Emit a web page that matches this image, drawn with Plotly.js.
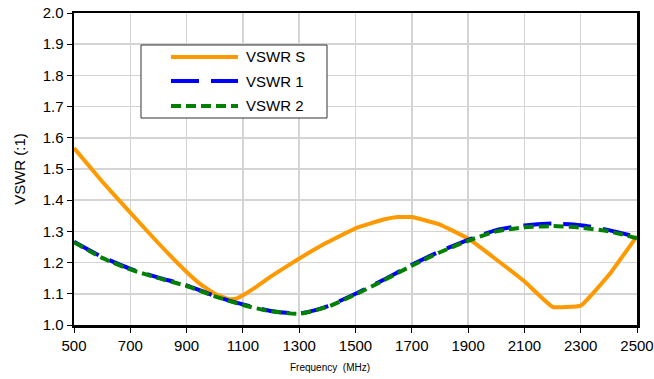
<!DOCTYPE html>
<html>
<head>
<meta charset="utf-8">
<script src="https://cdn.plot.ly/plotly-3.0.1.min.js"></script>
<style>html,body{margin:0;padding:0;background:#fff;}#chart{width:654px;height:379px;}</style>
</head>
<body>
<div id="chart"></div>
<script>
const freqS = [500,600,700,800,900,950,1000,1050,1075,1100,1150,1200,1300,1400,1500,1600,1650,1700,1800,1900,2000,2100,2200,2300,2400,2500];
const vswrS = [1.567,1.46,1.36,1.262,1.17,1.13,1.1,1.083,1.084,1.095,1.124,1.156,1.213,1.265,1.31,1.338,1.346,1.346,1.322,1.277,1.21,1.14,1.058,1.062,1.16,1.285];
const freq12 = [500,600,700,800,900,1000,1100,1200,1300,1400,1500,1600,1700,1800,1900,2000,2100,2200,2300,2400,2500];
const vswr1 = [1.267,1.218,1.18,1.152,1.127,1.093,1.066,1.045,1.037,1.06,1.1,1.145,1.193,1.236,1.273,1.304,1.319,1.325,1.32,1.304,1.282];
const vswr2 = [1.265,1.215,1.178,1.15,1.125,1.092,1.064,1.044,1.036,1.058,1.098,1.143,1.19,1.233,1.27,1.3,1.313,1.317,1.312,1.3,1.278];
const seriesNames = ['VSWR S', 'VSWR 1', 'VSWR 2'];
const xTicks = [500,700,900,1100,1300,1500,1700,1900,2100,2300,2500];
const yTicks = [1.0,1.1,1.2,1.3,1.4,1.5,1.6,1.7,1.8,1.9,2.0];

const styles = [
  {color: '#FF9900', width: 4, dash: 'solid'},
  {color: '#0000FF', width: 4, dash: '28px,12px'},
  {color: '#008000', width: 4, dash: '10px,5px'}
];

const traces = [
  {x: freqS, y: vswrS, name: seriesNames[0], mode: 'lines', line: {color: styles[0].color, width: 4, shape: 'spline', smoothing: 0.3}},
  {x: freq12, y: vswr1, name: seriesNames[1], mode: 'lines', line: {color: styles[1].color, width: 4, dash: styles[1].dash, shape: 'spline', smoothing: 0.6}},
  {x: freq12, y: vswr2, name: seriesNames[2], mode: 'lines', line: {color: styles[2].color, width: 4, dash: styles[2].dash, shape: 'spline', smoothing: 0.6}}
];

// Legend drawn as a box in paper coordinates
const legX0 = 0.119, legX1 = 0.4494, legY0 = 0.6635, legY1 = 0.8974;
const rowY = [0.859, 0.782, 0.702];
const shapes = [
  {type: 'rect', xref: 'paper', yref: 'paper', x0: legX0, x1: legX1, y0: legY0, y1: legY1, line: {color: '#333', width: 1}, fillcolor: '#fff', layer: 'above'}
];
const annotations = [
  {text: 'Frequency  (MHz)', xref: 'paper', yref: 'paper', x: (330-74)/563, y: -0.135, xanchor: 'center', yanchor: 'middle', showarrow: false, font: {size: 10}}
];
seriesNames.forEach((n, i) => {
  shapes.push({type: 'line', xref: 'paper', yref: 'paper', x0: 0.1723, x1: 0.2913, y0: rowY[i], y1: rowY[i], line: {color: styles[i].color, width: 4, dash: styles[i].dash}, layer: 'above'});
  annotations.push({text: n, xref: 'paper', yref: 'paper', x: 0.302, y: rowY[i], xanchor: 'left', yanchor: 'middle', showarrow: false, font: {size: 15}});
});

const layout = {
  width: 654, height: 379,
  margin: {l: 74, r: 17, t: 13, b: 54},
  paper_bgcolor: '#fff', plot_bgcolor: '#fff',
  font: {family: 'Liberation Sans, Arial, sans-serif', size: 15, color: '#000'},
  showlegend: false,
  xaxis: {
    range: [500, 2500], tickvals: xTicks, ticktext: xTicks.map(String),
    showgrid: true, gridcolor: '#d4d4d4', gridwidth: 1.5,
    showline: true, linecolor: '#000', linewidth: 2.5, mirror: true,
    ticks: 'outside', ticklen: 5, tickcolor: '#000', tickwidth: 1,
    zeroline: false, tickfont: {size: 15}
  },
  yaxis: {
    range: [1.0, 2.0], tickvals: yTicks, ticktext: yTicks.map(v => v.toFixed(1)),
    showgrid: true, gridcolor: '#d4d4d4', gridwidth: 1.5,
    showline: true, linecolor: '#000', linewidth: 2.5, mirror: true,
    ticks: 'outside', ticklen: 5, tickcolor: '#000', tickwidth: 1,
    zeroline: false, tickfont: {size: 15},
    title: {text: 'VSWR (:1)', font: {size: 15}, standoff: 14}
  },
  shapes: shapes,
  annotations: annotations
};

Plotly.newPlot('chart', traces, layout, {displayModeBar: false, staticPlot: true});
</script>
</body>
</html>
